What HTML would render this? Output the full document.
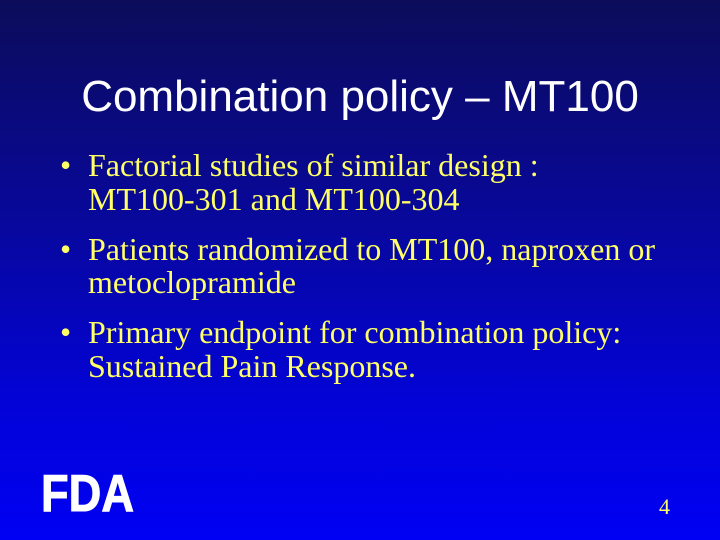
<!DOCTYPE html>
<html><head><meta charset="utf-8"><style>
html,body{margin:0;padding:0}
body{width:720px;height:540px;overflow:hidden;position:relative;background:linear-gradient(to bottom,#0c0c5a 0%,#08089a 40%,#0303d8 75%,#0000f4 100%);font-family:"Liberation Serif",serif}
#title{position:absolute;left:0;width:720px;top:70px;text-align:center;color:#fff;font-family:"Liberation Sans",sans-serif;font-size:44px;line-height:54px}
ul{position:absolute;left:60px;top:149px;margin:0;padding:0;list-style:none;color:#ffff66;font-size:32px;line-height:33.5px;width:660px;white-space:nowrap}
li{position:relative;padding-left:28px;margin-bottom:16.5px}
li:before{content:"•";position:absolute;left:0}
#num{position:absolute;left:659px;top:494px;color:#ffff66;font-size:22px}
#logo{position:absolute;left:40px;top:462px}
</style></head><body>
<div id="title">Combination policy – MT100</div>
<ul>
<li>Factorial studies of similar design :<br>MT100-301 and MT100-304</li>
<li>Patients randomized to MT100, naproxen or<br>metoclopramide</li>
<li>Primary endpoint for combination policy:<br>Sustained Pain Response.</li>
</ul>
<svg id="logo" width="100" height="56"><text x="1" y="49" font-family="Liberation Sans,sans-serif" font-weight="bold" font-size="52" fill="#fff" stroke="#fff" stroke-width="1" textLength="93" lengthAdjust="spacingAndGlyphs">FDA</text></svg>
<div id="num">4</div>
</body></html>
